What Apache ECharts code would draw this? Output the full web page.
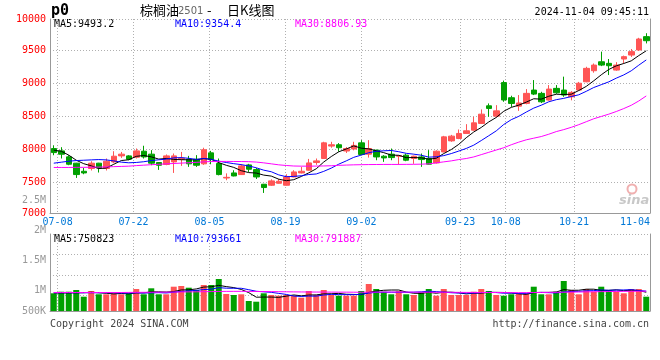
<!DOCTYPE html>
<html><head><meta charset="utf-8">
<script src="https://cdn.jsdelivr.net/npm/echarts@6/dist/echarts.min.js"></script>
<style>html,body{margin:0;padding:0;background:#fff}#c{width:660px;height:360px}</style>
</head><body><div id="c"></div>
<script>
const dates = ['07-05','07-08','07-09','07-10','07-11','07-12','07-15','07-16','07-17','07-18','07-19','07-22','07-23','07-24','07-25','07-26','07-29','07-30','07-31','08-01','08-02','08-05','08-06','08-07','08-08','08-09','08-12','08-13','08-14','08-15','08-16','08-19','08-20','08-21','08-22','08-23','08-26','08-27','08-28','08-29','08-30','09-02','09-03','09-04','09-05','09-06','09-09','09-10','09-11','09-12','09-13','09-18','09-19','09-20','09-23','09-24','09-25','09-26','09-27','09-30','10-08','10-09','10-10','10-11','10-14','10-15','10-16','10-17','10-18','10-21','10-22','10-23','10-24','10-25','10-28','10-29','10-30','10-31','11-01','11-04'];
const opens  = [8007,7972,7881,7785,7662,7704,7785,7704,7804,7896, 7896,7876,7967,7922,7795,7765,7804,7845,7845,7845, 7775,7942,7780,7560,7637,7612,7759,7688,7465,7450, 7480,7450,7576,7637,7678,7795,7856,8045,8065,7970, 8000,8094,7922,7983,7891,7922,7891,7907,7856,7880, 7856,7789,7956,8124,8160,8237,8287,8389,8657,8500, 9010,8780,8652,8693,8896,8846,8744,8922,8896,8794, 8896,9022,9190,9326,9302,9200,9368,9428,9505,9708];
const closes = [7946,7921,7769,7612,7637,7785,7713,7815,7891,7922, 7845,7972,7880,7785,7754,7896,7896,7860,7775,7754, 7990,7840,7612,7570,7591,7744,7693,7576,7415,7516, 7510,7576,7652,7662,7789,7820,8094,8065,8020,8008, 8055,7917,8008,7880,7865,7870,7900,7830,7891,7840, 7770,7967,8185,8196,8237,8277,8398,8530,8617,8580, 8745,8693,8700,8846,8835,8718,8911,8855,8820,8861, 9000,9226,9276,9276,9266,9276,9404,9480,9672,9646];
const lows   = [7906,7856,7754,7561,7617,7674,7643,7674,7785,7865, 7830,7856,7856,7754,7683,7754,7637,7744,7729,7729, 7760,7769,7600,7526,7585,7605,7652,7545,7333,7440, 7475,7445,7570,7630,7670,7760,7850,8020,7960,7940, 7980,7905,7870,7830,7805,7830,7760,7815,7775,7729, 7765,7780,7950,8110,8150,8230,8280,8380,8490,8480, 8718,8640,8580,8680,8820,8700,8735,8840,8794,8740, 8890,9015,9160,9260,9124,9190,9300,9400,9490,9605];
const highs  = [8057,8028,7907,7790,7713,7815,7790,7856,7967,7956, 7907,8008,8050,7983,7800,7917,7932,7956,7896,7907, 8020,7972,7856,7630,7678,7770,7775,7713,7470,7540, 7545,7617,7678,7729,7850,7856,8110,8110,8090,8030, 8110,8135,8135,7990,7907,8008,7907,7930,7900,7932, 7983,7980,8200,8215,8297,8378,8490,8602,8693,8667, 9040,8810,8820,8911,9048,8870,8972,8972,9100,8880, 9020,9250,9300,9480,9368,9320,9420,9520,9690,9760];
const ma5  = [7983,7967,7907,7830,7777,7745,7703,7712,7768,7825, 7837,7889,7902,7881,7847,7857,7842,7838,7836,7836, 7855,7844,7794,7753,7721,7671,7642,7635,7604,7589, 7542,7519,7534,7583,7638,7700,7803,7886,7958,8001, 8048,8013,8002,7974,7945,7908,7905,7869,7871,7866, 7846,7860,7931,7992,8071,8172,8259,8328,8412,8480, 8574,8633,8667,8713,8764,8758,8802,8833,8828,8833, 8889,8952,9037,9128,9209,9264,9300,9340,9420,9493];
const ma10 = [7785,7800,7815,7825,7830,7835,7840,7835,7820,7801, 7791,7796,7807,7825,7836,7847,7866,7870,7859,7842, 7856,7843,7816,7795,7778,7763,7743,7715,7679,7655, 7607,7580,7584,7594,7613,7621,7661,7710,7770,7820, 7874,7908,7944,7966,7973,7978,7959,7935,7922,7906, 7877,7882,7900,7931,7969,8009,8059,8129,8202,8276, 8373,8446,8497,8562,8622,8666,8718,8750,8770,8798, 8824,8877,8935,8978,9021,9077,9126,9189,9274,9354];
const ma30 = [7720,7720,7720,7722,7722,7724,7726,7728,7732,7736, 7740,7748,7755,7762,7768,7775,7780,7786,7792,7797, 7805,7810,7812,7812,7811,7810,7808,7802,7790,7775, 7760,7750,7742,7740,7740,7741,7743,7746,7752,7756, 7760,7762,7764,7765,7766,7766,7766,7767,7768,7770, 7775,7790,7805,7820,7840,7856,7880,7915,7950,7985, 8020,8065,8105,8140,8165,8190,8225,8265,8295,8330, 8370,8415,8460,8495,8530,8570,8615,8665,8730,8807];
const volumes = [708000,772000,772000,840000,572000,800000,668000,668000,708000,668000, 708000,880000,668000,908000,668000,668000,972000,1000000,932000,840000, 1040000,1040000,1280000,680000,640000,668000,400000,372000,708000,640000, 612000,640000,612000,532000,800000,640000,840000,640000,612000,612000, 612000,800000,1080000,880000,772000,668000,800000,668000,640000,748000, 880000,612000,880000,640000,640000,640000,772000,880000,800000,640000, 612000,668000,708000,708000,972000,668000,668000,772000,1200000,840000, 668000,880000,772000,972000,840000,772000,708000,880000,880000,572000];
const volMa5 = [720000,722000,725000,728000,733000,751000,730000,710000,683000,702000, 684000,726000,726000,766000,766000,758000,777000,843000,848000,882000, 957000,970000,1026000,976000,936000,862000,734000,552000,558000,558000, 546000,594000,642000,607000,639000,645000,685000,690000,706000,669000, 663000,655000,743000,797000,829000,840000,840000,758000,710000,705000, 747000,710000,752000,752000,730000,682000,714000,714000,746000,746000, 741000,720000,686000,667000,734000,745000,745000,758000,856000,830000, 830000,872000,872000,826000,826000,847000,813000,834000,816000,751000];
const volMa10 = [730000,730000,730000,730000,730000,730000,730000,730000,730000,717000, 717000,728000,718000,724000,734000,721000,751000,784000,807000,824000, 857000,873000,934000,912000,909000,909000,852000,789000,767000,747000, 704000,664000,597000,582000,598000,595000,639000,666000,656000,654000, 654000,670000,716000,751000,749000,751000,747000,750000,753000,767000, 793000,775000,755000,731000,717000,714000,712000,733000,749000,738000, 711000,717000,700000,706000,740000,743000,732000,722000,761000,782000, 787000,808000,815000,841000,828000,838000,842000,853000,821000,794000];
const volMa30 = [740000,740000,740000,740000,740000,740000,740000,740000,740000,740000, 745000,745000,748000,750000,752000,755000,758000,762000,765000,768000, 772000,776000,782000,785000,786000,786000,784000,780000,778000,776000, 772000,768000,765000,762000,760000,758000,757000,756000,755000,754000, 752000,750000,752000,755000,757000,758000,758000,756000,754000,752000, 750000,748000,748000,748000,746000,744000,742000,740000,740000,740000, 738000,736000,735000,735000,740000,742000,745000,748000,752000,756000, 760000,765000,770000,774000,778000,782000,785000,788000,790000,792000];
const labelDates = ['07-08','07-22','08-05','08-19','09-02','09-23','10-08','10-21','11-04'];
const priceTickLabels = ['7000','7500','8000','8500','9000','9500','10000'];
const volTickValues = [650000,1000000,1500000,2000000,2500000];
const volTickLabels = ['500K','1M','1.5M','2M','2.5M'];
const headerTexts = {title:'棕榈油', code:'2501', dash:'-', kind:'日K线图', symbol:'p0', time:'2024-11-04 09:45:11'};
const maTexts = ['MA5:9493.2','MA10:9354.4','MA30:8806.93'];
const volMaTexts = ['MA5:750823','MA10:793661','MA30:791887'];

const RED = '#ff5555', GREEN = '#00a000';
const mono = '"DejaVu Sans Mono", monospace';
const grid = '#b0b0b0', axisCol = '#999999';
const chart = echarts.init(document.getElementById('c'), null, {renderer:'canvas'});
const candles = opens.map((o,i)=>[o, closes[i], lows[i], highs[i]]);
const volData = volumes.map((v,i)=>({value:v, itemStyle:{color: closes[i]>=opens[i]?RED:GREEN}}));
const isLab = (i,v)=>labelDates.indexOf(v)>=0;
const dotted = {color:grid, type:[1,2], width:1};
const line = (d,c,xi,yi)=>({type:'line', data:d, xAxisIndex:xi, yAxisIndex:yi, symbol:'none', showSymbol:false, lineStyle:{color:c, width:1}, z:4, silent:true});
const txt = (t,x,y,fill,font,align)=>({type:'text', x:x, y:y, silent:true, style:{text:t, fill:fill, font:font, align:align||'left', verticalAlign:'middle'}});
const nearestVolLabel = (v)=>{ let k=0; volTickValues.forEach((t,j)=>{ if (Math.abs(t-v) < Math.abs(volTickValues[k]-v)) k=j; }); return volTickLabels[k]; };

chart.setOption({
  animation:false,
  grid:[
    {left:50, top:19, width:600, height:194},
    {left:50, top:234, width:600, height:77},
    {left:50, top:200, width:600, height:111}
  ],
  xAxis:[
    {gridIndex:0, type:'category', data:dates, boundaryGap:true, position:'top', axisLine:{show:false}, axisTick:{show:false}, axisLabel:{show:false}, splitLine:{show:false}},
    {gridIndex:0, type:'category', data:dates, boundaryGap:false, position:'bottom', axisLine:{onZero:false, lineStyle:{color:axisCol}}, axisTick:{show:false},
      axisLabel:{interval:isLab, color:'#0078d7', fontFamily:mono, fontSize:10, margin:4, alignMaxLabel:'right'},
      splitLine:{show:true, interval:isLab, lineStyle:dotted}},
    {gridIndex:1, type:'category', data:dates, boundaryGap:true, position:'top', axisLine:{show:false}, axisTick:{show:false}, axisLabel:{show:false}, splitLine:{show:false}},
    {gridIndex:1, type:'category', data:dates, boundaryGap:false, position:'bottom', axisLine:{onZero:false, lineStyle:{color:axisCol}}, axisTick:{show:false}, axisLabel:{show:false},
      splitLine:{show:true, interval:isLab, lineStyle:dotted}},
    {gridIndex:2, type:'category', data:dates, show:false}
  ],
  yAxis:[
    {gridIndex:0, type:'value', min:7028, max:9976, splitNumber:5, position:'left', scale:true,
      axisLine:{show:true, onZero:false, lineStyle:{color:axisCol}}, axisTick:{show:false},
      axisLabel:{color:'#ff0000', fontFamily:mono, fontSize:10, margin:4, formatter:(v)=>priceTickLabels[Math.round((v-7000)/500)]},
      splitLine:{show:true, lineStyle:dotted}},
    {gridIndex:0, type:'value', min:0, max:1, position:'right', axisLine:{show:true, onZero:false, lineStyle:{color:axisCol}}, axisTick:{show:false}, axisLabel:{show:false}, splitLine:{show:false}},
    {gridIndex:1, type:'value', min:0, max:3080000, position:'left', axisLine:{show:true, onZero:false, lineStyle:{color:axisCol}}, axisTick:{show:false}, axisLabel:{show:false}, splitLine:{show:false}},
    {gridIndex:1, type:'value', min:-0.75, max:3, splitNumber:4, position:'right', axisLine:{show:true, onZero:false, lineStyle:{color:axisCol}}, axisTick:{show:false}, axisLabel:{show:false}, splitLine:{show:true, lineStyle:dotted}},
    {gridIndex:2, type:'value', min:650000, max:2500000, splitNumber:4, position:'left', axisLine:{show:false}, axisTick:{show:false, customValues:volTickValues}, splitLine:{show:false},
      axisLabel:{customValues:volTickValues, showMinLabel:true, showMaxLabel:true, hideOverlap:false, color:'#999999', fontFamily:mono, fontSize:10, margin:4,
        formatter:nearestVolLabel}}
  ],
  series:[
    {type:'candlestick', xAxisIndex:0, yAxisIndex:0, data:candles, barWidth:6,
      itemStyle:{color:RED, color0:GREEN, borderColor:RED, borderColor0:GREEN, borderWidth:1}, silent:true},
    line(ma5,'#000000',0,0), line(ma10,'#0000ff',0,0), line(ma30,'#ff00ff',0,0),
    {type:'bar', xAxisIndex:2, yAxisIndex:2, data:volData, barWidth:6, silent:true},
    line(volMa5,'#000000',2,2), line(volMa10,'#0000ff',2,2), line(volMa30,'#ff00ff',2,2)
  ],
  graphic:[
    txt(headerTexts.symbol, 51, 11, '#000', 'bold 15px "DejaVu Sans Mono"'),
    txt(headerTexts.title, 140, 10, '#000', '13px "Noto Sans CJK SC"'),
    txt(headerTexts.code, 178, 11, '#666', '10px "DejaVu Sans"'),
    txt(headerTexts.dash, 207, 10, '#000', '13px "Noto Sans CJK SC"'),
    txt(headerTexts.kind, 227, 10, '#000', '13px "Noto Sans CJK SC"'),
    txt(headerTexts.time, 649, 12, '#000', '10px "DejaVu Sans Mono"', 'right'),
    txt(maTexts[0], 54, 24, '#000000', '10px "DejaVu Sans Mono"'),
    txt(maTexts[1], 175, 24, '#0000ff', '10px "DejaVu Sans Mono"'),
    txt(maTexts[2], 295, 24, '#ff00ff', '10px "DejaVu Sans Mono"'),
    txt(volMaTexts[0], 54, 239, '#000000', '10px "DejaVu Sans Mono"'),
    txt(volMaTexts[1], 175, 239, '#0000ff', '10px "DejaVu Sans Mono"'),
    txt(volMaTexts[2], 295, 239, '#ff00ff', '10px "DejaVu Sans Mono"'),
    txt('Copyright 2024 SINA.COM', 50, 324, '#444', '10px "DejaVu Sans Mono"'),
    txt('http://finance.sina.com.cn', 649, 324, '#444', '10px "DejaVu Sans Mono"', 'right'),
    {type:'circle', shape:{cx:632, cy:189, r:4.5}, silent:true, style:{fill:'none', stroke:'#f0b0b0', lineWidth:2}},
    txt('sina', 619, 201, '#c8c8c8', 'italic bold 13px "DejaVu Sans"')
  ]
});
</script></body></html>
